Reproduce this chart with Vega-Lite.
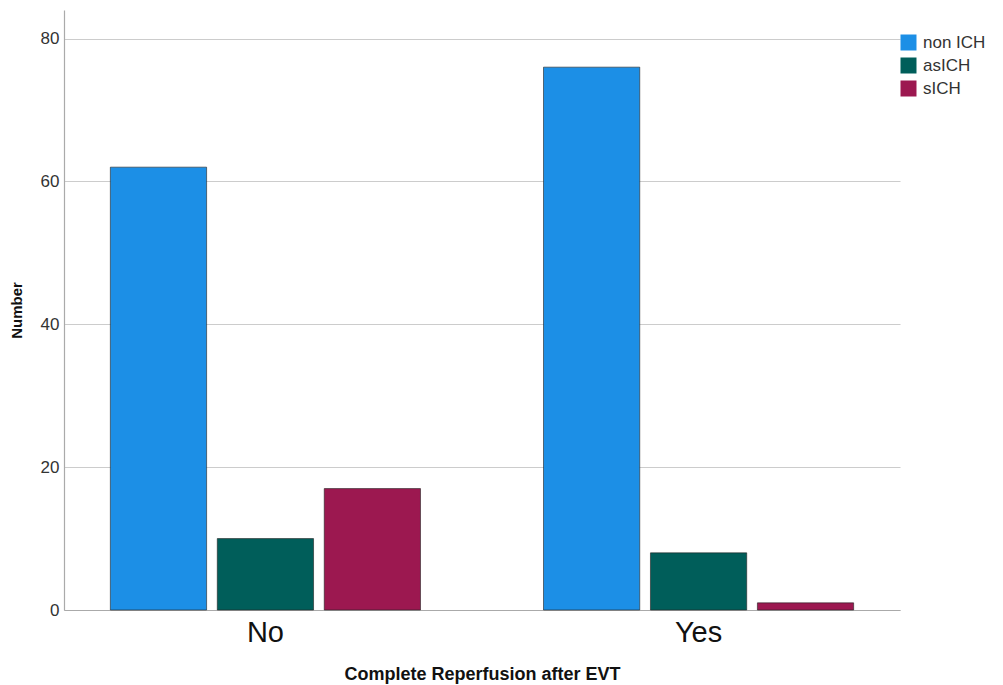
{
  "$schema": "https://vega.github.io/schema/vega-lite/v6.json",
  "autosize": {"type": "none"},
  "width": 836,
  "height": 600,
  "padding": {"left": 64, "top": 10, "right": 103, "bottom": 75},
  "background": "white",
  "config": {"view": {"stroke": null}, "font": "Liberation Sans"},
  "data": {
    "values": [
      {"reperfusion": "No", "group": "non ICH", "count": 62},
      {"reperfusion": "No", "group": "asICH", "count": 10},
      {"reperfusion": "No", "group": "sICH", "count": 17},
      {"reperfusion": "Yes", "group": "non ICH", "count": 76},
      {"reperfusion": "Yes", "group": "asICH", "count": 8},
      {"reperfusion": "Yes", "group": "sICH", "count": 1}
    ]
  },
  "mark": {"type": "bar", "stroke": "#222222", "strokeWidth": 0.6},
  "encoding": {
    "x": {
      "field": "reperfusion",
      "type": "nominal",
      "sort": ["No", "Yes"],
      "scale": {"paddingInner": 0.284, "paddingOuter": 0.107},
      "axis": {
        "title": "Complete Reperfusion after EVT",
        "titleFont": "Liberation Sans",
        "titleFontWeight": "bold",
        "titleFontSize": 18,
        "titleColor": "#111111",
        "titlePadding": 18,
        "labelAngle": 0,
        "labelFontSize": 29,
        "labelColor": "#111111",
        "labelPadding": 8,
        "ticks": false,
        "domainColor": "#aaaaaa",
        "domainWidth": 1.2
      }
    },
    "xOffset": {
      "field": "group",
      "type": "nominal",
      "sort": ["non ICH", "asICH", "sICH"],
      "scale": {"paddingInner": 0.1, "paddingOuter": 0}
    },
    "y": {
      "field": "count",
      "type": "quantitative",
      "scale": {"domain": [0, 84], "nice": false},
      "axis": {
        "title": "Number",
        "titleFontWeight": "bold",
        "titleFontSize": 15,
        "titleColor": "#111111",
        "titlePadding": 16,
        "values": [0, 20, 40, 60, 80],
        "labelFontSize": 17,
        "labelColor": "#333333",
        "labelPadding": 5,
        "ticks": false,
        "grid": true,
        "gridColor": "#cccccc",
        "gridWidth": 1.2,
        "domainColor": "#aaaaaa",
        "domainWidth": 1.2
      }
    },
    "color": {
      "field": "group",
      "type": "nominal",
      "sort": ["non ICH", "asICH", "sICH"],
      "scale": {
        "domain": ["non ICH", "asICH", "sICH"],
        "range": ["#1C8FE6", "#005E5A", "#9C1850"]
      },
      "legend": {
        "title": null,
        "orient": "none",
        "legendX": 836,
        "legendY": 24,
        "symbolType": "square",
        "symbolSize": 256,
        "symbolStrokeWidth": 0,
        "labelFontSize": 17,
        "labelColor": "#333333",
        "rowPadding": 5,
        "labelOffset": 6
      }
    }
  }
}
